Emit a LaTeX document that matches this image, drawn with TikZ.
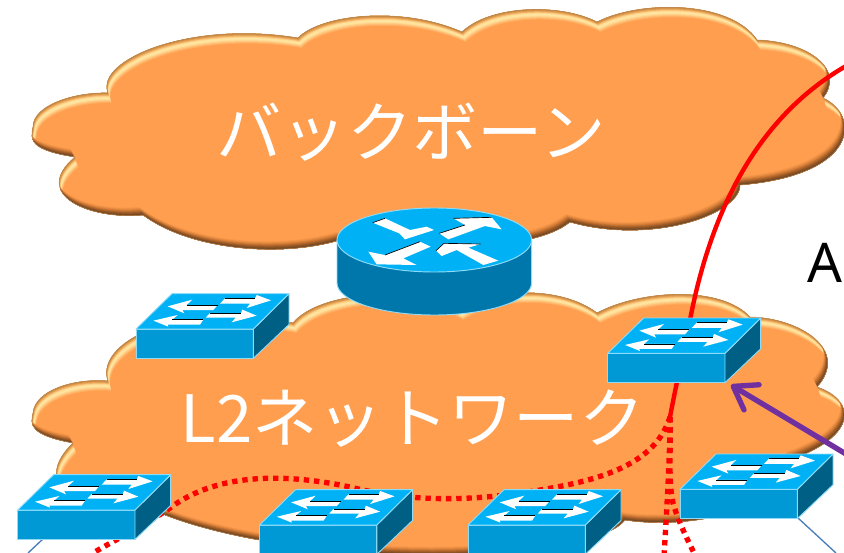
\documentclass[tikz,border=0pt]{standalone}
\usepackage{fontspec}
\newfontfamily\jpfont{Noto Sans CJK JP}
\setmainfont{Noto Sans}
\usetikzlibrary{arrows.meta}
\definecolor{cloudfill}{HTML}{FF9E4F}
\definecolor{swtop}{HTML}{00B2F5}
\definecolor{swfront}{HTML}{0099D6}
\definecolor{swside}{HTML}{005F85}
\definecolor{swedge}{HTML}{8FDBF7}
\definecolor{rtside}{HTML}{0077AA}
\definecolor{purp}{HTML}{7030A0}
\definecolor{thinblue}{HTML}{4A7EBB}
\definecolor{cloudedge}{HTML}{B98450}
\newcommand{\cloudA}{(33,127)
 .. controls (33,105) and (75,92) .. (108,93)
 .. controls (95,60) and (190,20) .. (298,38)
 .. controls (320,15) and (400,5) .. (462,32)
 .. controls (490,5) and (560,3) .. (597,22)
 .. controls (640,0) and (730,0) .. (757,40)
 .. controls (810,42) and (845,70) .. (823,98)
 .. controls (860,115) and (860,175) .. (740,185)
 .. controls (740,215) and (650,245) .. (570,222)
 .. controls (530,255) and (400,250) .. (340,240)
 .. controls (280,258) and (190,250) .. (143,215)
 .. controls (90,220) and (30,195) .. (75,157)
 .. controls (30,150) and (30,140) .. (33,127) -- cycle}
\newcommand{\cloudB}{(33,413)
 .. controls (35,390) and (75,378) .. (108,381)
 .. controls (95,345) and (170,300) .. (293,323)
 .. controls (320,290) and (420,285) .. (460,310)
 .. controls (490,288) and (560,285) .. (597,313)
 .. controls (640,290) and (720,285) .. (750,317)
 .. controls (800,318) and (850,350) .. (817,387)
 .. controls (855,400) and (860,435) .. (790,460)
 .. controls (790,510) and (690,530) .. (625,520)
 .. controls (590,565) and (300,570) .. (160,513)
 .. controls (90,515) and (25,490) .. (73,443)
 .. controls (30,435) and (30,425) .. (33,413) -- cycle}
% #1 = cloud path macro
\newcommand{\bevelcloud}[1]{%
 \begin{scope}
  \clip #1;
  \fill[cloudfill] (-100,-100) rectangle (1000,700);
  % highlight on upper edges
  \foreach \d/\c in {10/FFAC5E,9/FFBC72,8/FFCC84,7/FFDC96,6/FFE6A2,5/FFE39C,4/FFD086,3/F2B166,2/DE9C4C,1/C98A44}{
   \definecolor{tmpc}{HTML}{\c}
   \begin{scope}[shift={(\d*0.35,\d)}]
    \fill[even odd rule,tmpc] (-200,-200) rectangle (1100,800) #1;
   \end{scope}}
  % shadow on lower edges
  \foreach \d/\c in {8/F59648,7/E88C42,6/D8803A,5/C47230,4/AE642A,3/985826,2/845024,1/6E4826}{
   \definecolor{tmpc}{HTML}{\c}
   \begin{scope}[shift={(-\d*0.5,-\d)}]
    \fill[even odd rule,tmpc] (-200,-200) rectangle (1100,800) #1;
   \end{scope}}
 \end{scope}
 \draw[cloudedge,line width=.4pt] #1;}
\tikzset{
 swt/.style={fill=swtop,draw=swedge,line width=.7pt,line join=round},
 swf/.style={fill=swfront,draw=swedge,line width=.7pt,line join=round},
 sws/.style={fill=swside,draw=swedge,line width=.7pt,line join=round},
 redsolid/.style={red,line width=3.3pt},
 reddot/.style={red,line width=4pt,dash pattern=on 4pt off 3.7pt},
 thinlink/.style={thinblue,line width=1pt},
 bigtext/.style={text=white,font=\jpfont\fontsize{49}{52}\selectfont,inner sep=0pt},
 arrowlabel/.style={text=black,font=\fontsize{41}{43}\selectfont,inner sep=0pt}
}
% name, x, y of the front face's top-left corner
\newcommand{\swicon}[3]{%
 \coordinate (#1) at (#2,#3);
 \begin{scope}[shift={(#2,#3)}]
  \fill[swf] (0,0) rectangle (117.3,29.4);
  \fill[sws] (117.3,0) -- (153,-35.3) -- (153,-4.5) -- (117.3,29.4) -- cycle;
  \fill[swt] (0,0) -- (36,-35.3) -- (153,-35.3) -- (117.3,0) -- cycle;
  \begin{scope}[x=.25pt,y=-.25pt,shift={(-53,-160)}]
   \fill[white] (148,92) -- (222,72) -- (205,88) -- (298,88) -- (285,103) -- (192,103) -- (198,113) -- cycle;
   \fill[white] (320,68) -- (410,68) -- (415,58) -- (458,74) -- (385,97) -- (395,84) -- (305,84) -- cycle;
   \fill[white] (105,135) -- (178,118) -- (162,132) -- (255,132) -- (245,147) -- (148,147) -- (150,153) -- cycle;
   \fill[white] (275,112) -- (368,112) -- (372,102) -- (415,120) -- (340,140) -- (352,126) -- (262,126) -- cycle;
   \draw[black,line width=.5pt] (205,88) -- (298,88) (320,68) -- (410,68) (162,132) -- (255,132) (275,112) -- (368,112);
  \end{scope}
 \end{scope}}
\begin{document}
\begin{tikzpicture}[x=.75pt,y=-.75pt]
\useasboundingbox (0,0) rectangle (844,553);
\bevelcloud{\cloudA}
\bevelcloud{\cloudB}
\node[bigtext] (backbone) at (411,132) {バックボーン};
\node[bigtext] (l2net) at (412.5,419) {L2ネットワーク};
\node[arrowlabel,anchor=base west] (alabel) at (807,282) {A};
% connector end points
\coordinate (redstart) at (846,66);
\coordinate (split) at (670,417);
\coordinate (dotA) at (93,553);
\coordinate (dotB) at (664,556);
\coordinate (dotC) at (696,557);
\coordinate (purpstart) at (846,454);
\coordinate (purpend) at (731,385);
\coordinate (linkA) at (798,518);
\coordinate (linkAend) at (836,553);
\coordinate (linkB) at (44,538);
\coordinate (linkBend) at (28,553);
% links
\draw[thinlink] (linkA) -- (linkAend);
\draw[thinlink] (linkB) -- (linkBend);
\draw[redsolid] (redstart) .. controls (770,110) and (715,190) .. (690,320) .. controls (684,350) and (676,385) .. (split);
\draw[reddot] (split) .. controls (655,465) and (600,480) .. (540,490) .. controls (470,502) and (410,502) .. (350,487) .. controls (270,470) and (210,478) .. (170,508) .. controls (145,525) and (115,540) .. (dotA);
\draw[reddot] (split) .. controls (670,450) and (668,490) .. (dotB);
\draw[reddot] (split) .. controls (671,450) and (668,480) .. (673,503) .. controls (678,520) and (685,535) .. (dotC);
% router
\coordinate (router) at (434.3,240);
\fill[rtside,draw=swedge,line width=.7pt] (337,240) -- (337,283) arc[start angle=180,end angle=0,x radius=97.3,y radius=32] -- (531.6,240) -- cycle;
\fill[swtop,draw=swedge,line width=.7pt] (router) ellipse[x radius=97.3,y radius=32];
\begin{scope}[x=.25pt,y=-.25pt,shift={(960,600)}]
 \fill[white] (158,68) -- (195,55) -- (270,90) -- (320,80) -- (342,90) -- (255,118) -- (238,100) -- cycle;
 \fill[white] (358,100) -- (435,75) -- (400,55) -- (515,52) -- (545,88) -- (495,78) -- (385,118) -- cycle;
 \fill[white] (332,140) -- (250,175) -- (290,195) -- (170,193) -- (145,155) -- (195,165) -- (300,125) -- cycle;
 \fill[white] (535,182) -- (490,195) -- (410,150) -- (365,168) -- (348,152) -- (372,130) -- (482,132) -- (445,143) -- cycle;
 \draw[black,line width=.5pt] (158,68) -- (195,55) (400,55) -- (515,52) (195,165) -- (300,125) (358,100) -- (435,75) (348,152) -- (372,130) -- (482,132);
\end{scope}
% switches
\swicon{swa}{136}{329}
\swicon{swb}{607.7}{353.3}
\swicon{swc}{680}{489.3}
\swicon{swd}{17.7}{510}
\swicon{swe}{259.5}{525}
\swicon{swf}{468}{525}
% purple arrow
\draw[purp,line width=4pt,line cap=round,line join=round,-{Straight Barb[length=16pt,width=22pt,round]}] (purpstart) -- (purpend);
\end{tikzpicture}
\end{document}
